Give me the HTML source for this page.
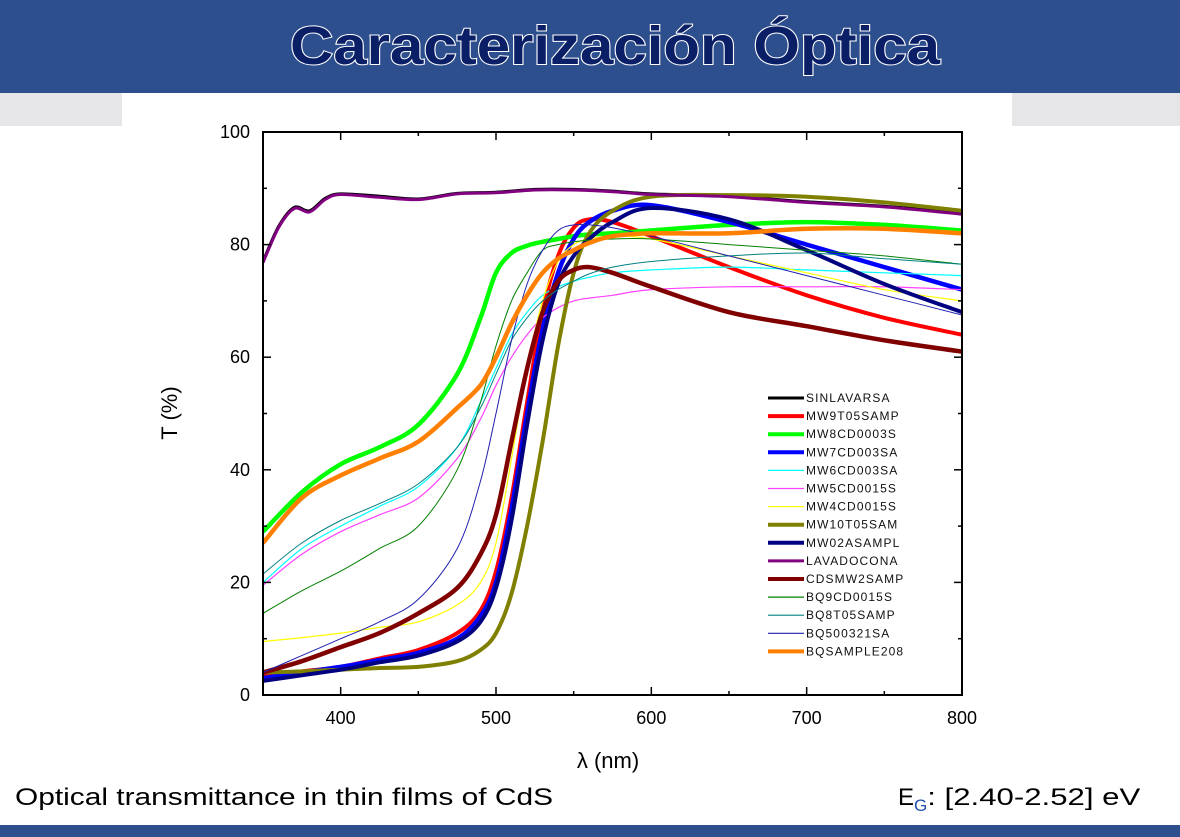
<!DOCTYPE html>
<html><head><meta charset="utf-8"><style>
html,body{margin:0;padding:0;width:1180px;height:837px;overflow:hidden;background:#fff;font-family:"Liberation Sans",Arial,sans-serif}
</style></head><body>
<svg id="s" width="1180" height="837" viewBox="0 0 1180 837" xmlns="http://www.w3.org/2000/svg" font-family="Liberation Sans, Arial, sans-serif">
<rect x="0" y="0" width="1180" height="93" fill="#2e4f8e"/>
<rect x="0" y="93" width="122" height="33" fill="#e6e6e8"/>
<rect x="1012" y="93" width="168" height="33" fill="#e6e6e8"/>
<text x="615" y="64" text-anchor="middle" font-family="Liberation Sans Narrow, Liberation Sans, sans-serif" font-weight="bold" font-size="54" textLength="650" lengthAdjust="spacingAndGlyphs" fill="#0a1f66" stroke="#fff" stroke-width="2" paint-order="stroke">Caracterización Óptica</text>
<rect x="0" y="825" width="1180" height="12" fill="#2e4f8e"/>
<text x="15" y="805" font-size="24" textLength="538" lengthAdjust="spacingAndGlyphs" fill="#000">Optical transmittance in thin films of CdS</text>
<text x="898" y="805" font-size="24" fill="#000">E<tspan font-size="17" dy="6" fill="#1f4fb0">G</tspan><tspan dy="-6" textLength="213" lengthAdjust="spacingAndGlyphs">: [2.40-2.52] eV</tspan></text>
<g id="plot"></g>
</svg>
<script>
const xTicks=[400,500,600,700,800];
const yTicks=[0,20,40,60,80,100];
const wl=[350,375,400,425,450,475,490,500,510,520,530,540,550,560,575,600,650,700,750,800];
const names=["SINLAVARSA","MW9T05SAMP","MW8CD0003S","MW7CD003SA","MW6CD003SA","MW5CD0015S","MW4CD0015S","MW10T05SAM","MW02ASAMPL","LAVADOCONA","CDSMW2SAMP","BQ9CD0015S","BQ8T05SAMP","BQ500321SA","BQSAMPLE208"];
const purpleW=[350,360,370,380,390,400,425,450,475,500,525,550,575,600,650,700,750,800];
const sSIN=[77,83.2,86.6,86,88.2,89,88.6,88.1,89.1,89.3,89.8,89.8,89.5,89,88.6,87.6,86.8,85.6];
const sLAV=[76.8,83,86.4,85.8,88,88.9,88.4,88,89,89.2,89.7,89.7,89.4,88.9,88.5,87.5,86.7,85.4];
const sMW9=[3.5,4.2,5,6.5,8,11,15,22,35,52,68,78,83,84.5,84,81.5,76,71,67,64];
const sMW8=[29,36,41,44,48,57,67,75,78.5,79.8,80.5,81,81.5,81.8,82,82.5,83.5,84,83.5,82.5];
const sMW7=[3,4,5,6.2,7.5,10,14,20,33,50,65,75,81,84,86,87,84,80,76,72];
const sMW6=[20,26,30,33.5,37,44,52,58,64,68,71,72.5,73.5,74.2,75,75.5,76,75.5,75,74.5];
const sMW5=[19.5,25,29,32,35,42,49,55,60,64,67,68.8,70,70.5,71,72,72.5,72.5,72.5,72];
const sMW4=[9.5,10.2,11,12,13,16,20,27,42,58,70,77,80,81,81.5,81,78,75,72,70];
const sMW10=[4,4.2,4.5,4.8,5,6,8,11,18,30,45,62,75,82,86,88.5,88.8,88.5,87.5,86];
const sMW02=[2.5,3.5,4.5,5.8,7,9.5,13,19,31,48,63,73,78,81,84,86.5,84.5,79,73,68];
const sCDS=[4,6,8.5,11,14.5,19,25,32,45,58,68,73.5,75.5,76,75,72.5,68,65.5,63,61];
const sBQ9=[14.5,18.5,22,26,30,40,52,62,70,75,79,80,80.5,80.8,81,81,80,79,78,76.5];
const sBQ8=[21.5,27,31,34,37.5,44,51,57,63,67,70,72,73.5,74.8,76,77,78,78.5,77.5,76.5];
const sBQ5=[4,7,10,13,17,26,38,50,63,73,79,82.5,83.5,83.5,83,81.5,78,74.5,71,67.5];
const sBQS=[27,35,39,42,45,51,55,60,66,71,75,77.5,79,80.3,81.5,82,82,82.8,82.8,82];
const series=[
 [sSIN,"#000000",3,purpleW],[sMW9,"#ff0000",4,wl],[sMW8,"#00ff00",4.5,wl],[sMW7,"#0000ff",4.5,wl],
 [sMW6,"#00ffff",1.2,wl],[sMW5,"#ff40ff",1.2,wl],[sMW4,"#ffff00",1.2,wl],[sMW10,"#808000",4,wl],
 [sMW02,"#000080",4,wl],[sLAV,"#800080",3,purpleW],[sCDS,"#800000",4.5,wl],[sBQ9,"#008000",1,wl],
 [sBQ8,"#008080",1,wl],[sBQ5,"#2020b0",1,wl],[sBQS,"#ff8000",4.5,wl]];
const X0=263,X1=962,Y0=695,Y1=132;
const xs=v=>X0+(v-350)/(800-350)*(X1-X0);
const ys=v=>Y0-(v/100)*(Y0-Y1);
const NS="http://www.w3.org/2000/svg";
const g=document.getElementById('plot');
function mk(t,a){const e=document.createElementNS(NS,t);for(const k in a)e.setAttribute(k,a[k]);g.appendChild(e);return e;}
const clip=mk('clipPath',{id:'cp'});
const cr=document.createElementNS(NS,'rect');cr.setAttribute('x',X0);cr.setAttribute('y',Y1);cr.setAttribute('width',X1-X0);cr.setAttribute('height',Y0-Y1);clip.appendChild(cr);
function smooth(P){let d='M'+P[0][0].toFixed(1)+','+P[0][1].toFixed(1);
 for(let i=0;i<P.length-1;i++){const p0=P[i-1]||P[i],p1=P[i],p2=P[i+1],p3=P[i+2]||p2;
  const c1=[p1[0]+(p2[0]-p0[0])/6,p1[1]+(p2[1]-p0[1])/6],c2=[p2[0]-(p3[0]-p1[0])/6,p2[1]-(p3[1]-p1[1])/6];
  d+=' C'+c1[0].toFixed(1)+','+c1[1].toFixed(1)+' '+c2[0].toFixed(1)+','+c2[1].toFixed(1)+' '+p2[0].toFixed(1)+','+p2[1].toFixed(1);}
 return d;}
series.forEach((s,i)=>{
 const pts=s[0].map((v,j)=>[xs(s[3][j]),ys(v)]);
 const p=mk('path',{d:smooth(pts),fill:'none',stroke:s[1],'stroke-width':s[2],'stroke-linejoin':'round','clip-path':'url(#cp)'});
 
 
});
const box=mk('rect',{x:X0,y:Y1,width:X1-X0,height:Y0-Y1,fill:'none',stroke:'#000','stroke-width':2});


for(let v=350;v<=800;v+=50){const x=xs(v),L=(v%100===0)?8:4;
 mk('line',{x1:x,y1:Y0,x2:x,y2:Y0-L,stroke:'#000','stroke-width':1.5});
 mk('line',{x1:x,y1:Y1,x2:x,y2:Y1+L,stroke:'#000','stroke-width':1.5});}
for(let v=0;v<=100;v+=10){const y=ys(v),L=(v%20===0)?8:4;
 mk('line',{x1:X0,y1:y,x2:X0+L,y2:y,stroke:'#000','stroke-width':1.5});
 mk('line',{x1:X1,y1:y,x2:X1-L,y2:y,stroke:'#000','stroke-width':1.5});}
xTicks.forEach(v=>{const t=mk('text',{x:xs(v),y:724,'text-anchor':'middle','font-size':18});t.textContent=v;
 
 });
yTicks.forEach(v=>{const t=mk('text',{x:250,y:ys(v)+6,'text-anchor':'end','font-size':18});t.textContent=v;
 
 });
const xt=mk('text',{x:608,y:768,'text-anchor':'middle','font-size':22});xt.textContent='λ (nm)';


const yt=mk('text',{x:0,y:0,'text-anchor':'middle','font-size':22,transform:'translate(177,413) rotate(-90)'});yt.textContent='T (%)';


series.forEach((s,i)=>{const y=398+18.1*i;
 const l=mk('line',{x1:768,y1:y,x2:804,y2:y,stroke:s[1],'stroke-width':s[2]<2?1.2:Math.min(s[2],4)});
 
 
 const t=mk('text',{x:806,y:y+4,'font-size':12,'letter-spacing':'1.1',fill:'#111'});t.textContent=names[i];
 
 });
</script>
</body></html>
